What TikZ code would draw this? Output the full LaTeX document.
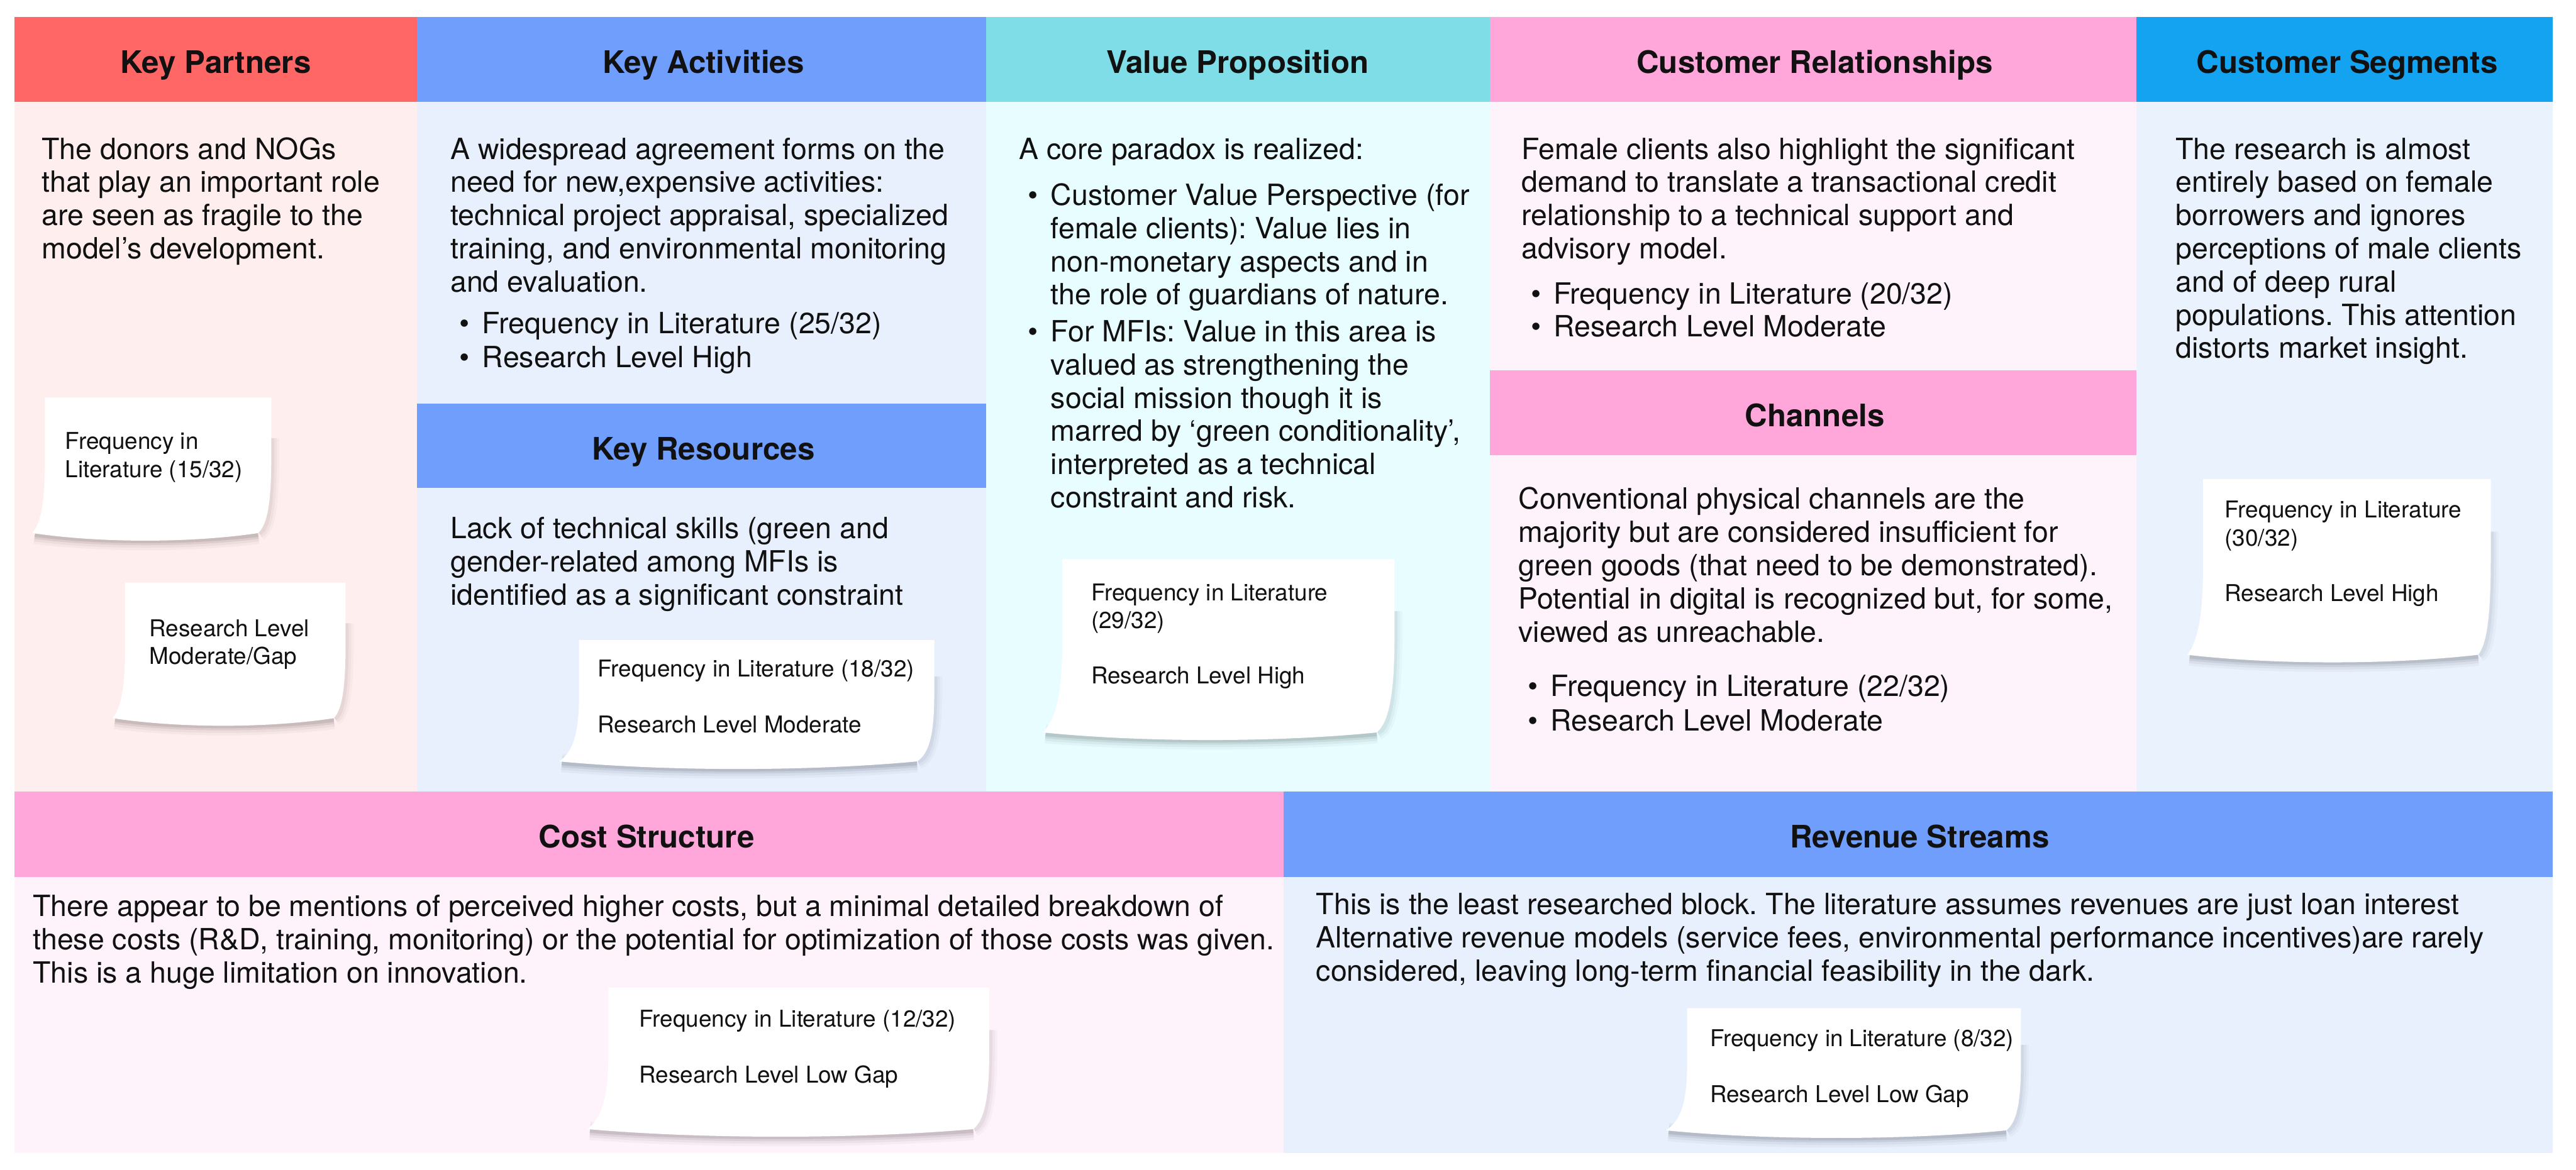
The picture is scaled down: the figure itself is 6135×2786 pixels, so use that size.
\documentclass[tikz,border=0pt]{standalone}
\usepackage{fontspec}
\setmainfont{TeX Gyre Heros}
\frenchspacing
\newlength\pxu \setlength\pxu{0.01cm}
\definecolor{kpH}{HTML}{FF6666}
\definecolor{kpB}{HTML}{FFEEEE}
\definecolor{blH}{HTML}{6F9EFC}
\definecolor{blB}{HTML}{E8F0FE}
\definecolor{vpH}{HTML}{7EDDE6}
\definecolor{vpB}{HTML}{E7FDFF}
\definecolor{pkH}{HTML}{FFA6DA}
\definecolor{pkB}{HTML}{FFF3FB}
\definecolor{csH}{HTML}{14A3F0}
\definecolor{csB}{HTML}{EAF2FE}
\definecolor{ink}{HTML}{111111}

\newcommand\tlines[1]{\begin{tabular}[t]{@{}l@{}}#1\end{tabular}}
\newcommand\bul[1]{\makebox[76\pxu][l]{\hspace*{22\pxu}\textbullet}\tlines{#1}}

\tikzset{
  blk/.style={inner sep=0pt, outer sep=0pt, anchor=north west, draw=none},
  hdrtext/.style={font=\fontsize{21}{25}\selectfont\bfseries, text=ink, anchor=base, inner sep=0pt},
  bodytext/.style={font=\fontsize{19.8}{22.5}\selectfont\frenchspacing, text=ink, anchor=base west, inner sep=0pt},
  notetext/.style={font=\fontsize{15.7}{19}\selectfont, text=ink, anchor=base west, inner sep=0pt},
}

% name, x1, y1, x2, y2, colour
\newcommand\blockbox[6]{\node[blk, fill=#6, minimum width={(#4-#2)*0.01cm}, minimum height={(#5-#3)*0.01cm}] (#1) at (#2,#3) {};}

% name, top-left x, top y, top-right x, bottom y, left flare, right inset
\newcommand\stickynote[7]{%
 \pgfmathsetmacro\nH{#5-#3}%
 \pgfmathsetmacro\nBL{#2-#6}%
 \pgfmathsetmacro\nBR{#4-#7}%
 \pgfmathsetmacro\nW{\nBR-\nBL}%
 \foreach \w/\o in {44/0.03,32/0.045,20/0.065,10/0.085}{%
   \draw[line width=\w*0.01cm, black, opacity=\o, line cap=butt]
     (\nBL+6,#5+4) .. controls (\nBL+0.3*\nW,#5+24) and (\nBR-0.3*\nW,#5+24) .. (\nBR,#5+4);
 }%
 \foreach \w/\o in {36/0.022,24/0.032,12/0.045}{%
   \draw[line width=\w*0.01cm, black, opacity=\o, line cap=butt]
     (#4+1,#3+0.3*\nH) .. controls (#4+3,#3+0.75*\nH) and (#4-0.2*#7,#5-10) .. (\nBR+2,#5);
 }%
 \fill[white] (#2,#3) -- (#4,#3) -- (#4,#3+0.45*\nH)
   .. controls (#4,#3+0.8*\nH) and (#4-0.35*#7,#5-0.06*\nH) .. (\nBR,#5)
   .. controls (\nBR-0.3*\nW,#5+24) and (\nBL+0.3*\nW,#5+24) .. (\nBL,#5)
   .. controls (#2-0.35*#6,#5-0.08*\nH) and (#2,#3+0.8*\nH) .. (#2,#3+0.45*\nH) -- cycle;
 \coordinate (#1) at ({(#2+#4)/2},{(#3+#5)/2});
}

\begin{document}
\begin{tikzpicture}[x=0.01cm, y=-0.01cm]
\useasboundingbox (0,0) rectangle (6135,2786);
\fill[white] (0,0) rectangle (6135,2786);

% ---- blocks ----
\blockbox{kp-head}{35}{40}{993}{243}{kpH}
\blockbox{kp-body}{35}{243}{993}{1886}{kpB}
\blockbox{ka-head}{993}{40}{2348}{243}{blH}
\blockbox{ka-body}{993}{243}{2348}{961}{blB}
\blockbox{kr-head}{993}{961}{2348}{1162}{blH}
\blockbox{kr-body}{993}{1162}{2348}{1886}{blB}
\blockbox{vp-head}{2348}{40}{3549}{243}{vpH}
\blockbox{vp-body}{2348}{243}{3549}{1886}{vpB}
\blockbox{cr-head}{3549}{40}{5088}{243}{pkH}
\blockbox{cr-body}{3549}{243}{5088}{882}{pkB}
\blockbox{ch-head}{3549}{882}{5088}{1084}{pkH}
\blockbox{ch-body}{3549}{1084}{5088}{1886}{pkB}
\blockbox{cs-head}{5088}{40}{6080}{243}{csH}
\blockbox{cs-body}{5088}{243}{6080}{1886}{csB}
\blockbox{co-head}{35}{1886}{3057}{2089}{pkH}
\blockbox{co-body}{35}{2089}{3057}{2747}{pkB}
\blockbox{rv-head}{3057}{1886}{6080}{2089}{blH}
\blockbox{rv-body}{3057}{2089}{6080}{2747}{blB}

% ---- titles ----
\node[hdrtext] (kp-t) at (514,174) {Key Partners};
\node[hdrtext] (ka-t) at (1675,174) {Key Activities};
\node[hdrtext] (kr-t) at (1675,1095) {Key Resources};
\node[hdrtext] (vp-t) at (2948,174) {Value Proposition};
\node[hdrtext] (cr-t) at (4322,174) {Customer Relationships};
\node[hdrtext] (ch-t) at (4322,1016) {Channels};
\node[hdrtext] (cs-t) at (5590,174) {Customer Segments};
\node[hdrtext] (co-t) at (1540,2020) {Cost Structure};
\node[hdrtext] (rv-t) at (4572,2020) {Revenue Streams};

% ---- body texts ----
\node[bodytext] (kp-x) at (99,379) {\tlines{The donors and NOGs\\that play an important role\\are seen as fragile to the\\model’s development.}};

\node[bodytext] (ka-x) at (1072,379) {\tlines{A widespread agreement forms on the\\need for new,expensive activities:\\technical project appraisal, specialized\\training, and environmental monitoring\\and evaluation.}};
\node[bodytext] (ka-b1) at (1072,795) {\bul{Frequency in Literature (25/32)}};
\node[bodytext] (ka-b2) at (1072,876) {\bul{Research Level High}};

\node[bodytext] (kr-x) at (1072,1283) {\tlines{Lack of technical skills (green and\\gender-related among MFIs is\\identified as a significant constraint}};

\node[bodytext] (vp-x) at (2426,379) {\tlines{A core paradox is realized:}};
\node[bodytext] (vp-b1) at (2426,489) {\bul{Customer Value Perspective (for\\female clients): Value lies in\\non-monetary aspects and in\\the role of guardians of nature.}};
\node[bodytext] (vp-b2) at (2426,814) {\bul{For MFIs: Value in this area is\\valued as strengthening the\\social mission though it is\\marred by ‘green conditionality’,\\interpreted as a technical\\constraint and risk.}};

\node[bodytext] (cr-x) at (3623,379) {\tlines{Female clients also highlight the significant\\demand to translate a transactional credit\\relationship to a technical support and\\advisory model.}};
\node[bodytext] (cr-b1) at (3623,724) {\bul{Frequency in Literature (20/32)}};
\node[bodytext] (cr-b2) at (3623,802) {\bul{Research Level Moderate}};

\node[bodytext] (ch-x) at (3616,1213) {\tlines{Conventional physical channels are the\\majority but are considered insufficient for\\green goods (that need to be demonstrated).\\Potential in digital is recognized but, for some,\\viewed as unreachable.}};
\node[bodytext] (ch-b1) at (3616,1659) {\bul{Frequency in Literature (22/32)}};
\node[bodytext] (ch-b2) at (3616,1741) {\bul{Research Level Moderate}};

\node[bodytext] (cs-x) at (5181,379) {\tlines{The research is almost\\entirely based on female\\borrowers and ignores\\perceptions of male clients\\and of deep rural\\populations. This attention\\distorts market insight.}};

\node[bodytext] (co-x) at (78,2183) {\tlines{There appear to be mentions of perceived higher costs, but a minimal detailed breakdown of\\these costs (R\&D, training, monitoring) or the potential for optimization of those costs was given.\\This is a huge limitation on innovation.}};

\node[bodytext] (rv-x) at (3134,2179) {\tlines{This is the least researched block. The literature assumes revenues are just loan interest\\Alternative revenue models (service fees, environmental performance incentives)are rarely\\considered, leaving long-term financial feasibility in the dark.}};

% ---- sticky notes ----
\stickynote{note-kp1}{107}{947}{646}{1270}{30}{31}
\node[notetext] (kp1-a) at (155,1070) {Frequency in};
\node[notetext] (kp1-b) at (155,1137) {Literature (15/32)};

\stickynote{note-kp2}{298}{1388}{823}{1711}{30}{28}
\node[notetext] (kp2-a) at (355,1516) {Research Level};
\node[notetext] (kp2-b) at (355,1582) {Moderate/Gap};

\stickynote{note-kr}{1379}{1525}{2225}{1814}{47}{41}
\node[notetext] (kr-a) at (1423,1613) {Frequency in Literature (18/32)};
\node[notetext] (kr-b) at (1423,1745) {Research Level Moderate};

\stickynote{note-vp}{2530}{1332}{3321}{1745}{46}{42}
\node[notetext] (vp-a) at (2598,1431) {Frequency in Literature};
\node[notetext] (vp-b) at (2598,1497) {(29/32)};
\node[notetext] (vp-c) at (2598,1629) {Research Level High};

\stickynote{note-cs}{5247}{1141}{5932}{1560}{38}{30}
\node[notetext] (cs-a) at (5298,1234) {Frequency in Literature};
\node[notetext] (cs-b) at (5298,1301) {(30/32)};
\node[notetext] (cs-c) at (5298,1433) {Research Level High};

\stickynote{note-co}{1449}{2353}{2356}{2690}{50}{38}
\node[notetext] (co-a) at (1522,2447) {Frequency in Literature (12/32)};
\node[notetext] (co-b) at (1522,2580) {Research Level Low Gap};

\stickynote{note-rv}{4018}{2402}{4813}{2693}{50}{35}
\node[notetext] (rv-a) at (4072,2493) {Frequency in Literature (8/32)};
\node[notetext] (rv-b) at (4072,2627) {Research Level Low Gap};
\end{tikzpicture}
\end{document}
